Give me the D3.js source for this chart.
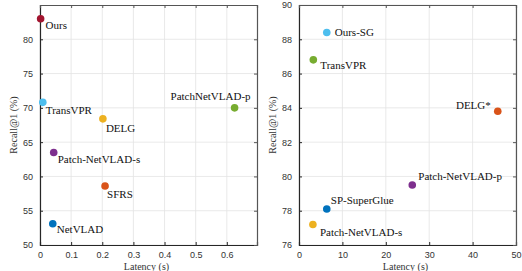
<!DOCTYPE html>
<html>
<head>
<meta charset="utf-8">
<script src="https://cdn.jsdelivr.net/npm/d3@7"></script>
<style>
  body { margin: 0; background: #fff; }
  svg { display: block; }
  .tick text { font-family: "Liberation Sans", Arial, sans-serif; font-size: 9px; fill: #333; }
  .lbl { font-family: "Liberation Serif", "Times New Roman", serif; font-size: 11px; fill: #111; }
  .axlbl { font-family: "Liberation Serif", "Times New Roman", serif; font-size: 10px; fill: #333; }
</style>
</head>
<body>
<svg id="chart" width="522" height="271"></svg>
<script>
// --- left panel data ---
const leftNames   = ["Ours","TransVPR","DELG","Patch-NetVLAD-s","SFRS","NetVLAD","PatchNetVLAD-p"];
const leftLatency = [0.002, 0.009, 0.202, 0.044, 0.209, 0.041, 0.625];
const leftRecall  = [83.0, 70.8, 68.4, 63.5, 58.6, 53.1, 70.0];
const leftColors  = ["#A2142F","#4DBEEE","#EDB120","#7E2F8E","#D95319","#0072BD","#77AC30"];
const leftXTicks  = [0, 0.1, 0.2, 0.3, 0.4, 0.5, 0.6];
const leftYTicks  = [50, 55, 60, 65, 70, 75, 80];

// --- right panel data ---
const rightNames   = ["Ours-SG","TransVPR","DELG*","Patch-NetVLAD-p","SP-SuperGlue","Patch-NetVLAD-s"];
const rightLatency = [6.4, 3.3, 45.8, 26.1, 6.4, 3.2];
const rightRecall  = [88.4, 86.8, 83.8, 79.5, 78.1, 77.2];
const rightColors  = ["#4DBEEE","#77AC30","#D95319","#7E2F8E","#0072BD","#EDB120"];
const rightXTicks  = [0, 10, 20, 30, 40, 50];
const rightYTicks  = [76, 78, 80, 82, 84, 86, 88, 90];

// label offsets [dx, dy, anchor] relative to each marker
const leftLabelPos = [[5,6,"start"],[3,8,"start"],[3,9,"start"],[4,7,"start"],[2,8,"start"],[4,5,"start"],[16,-12,"end"]];
const rightLabelPos = [[8,0,"start"],[7,5,"start"],[-7,-6,"end"],[6,-9,"start"],[4,-9,"start"],[7,8,"start"]];

const svg = d3.select("#chart");

function drawPanel(cfg) {
  const x = d3.scaleLinear().domain(cfg.xDomain).range([cfg.left, cfg.right]);
  const y = d3.scaleLinear().domain(cfg.yDomain).range([cfg.bottom, cfg.top]);
  const g = svg.append("g");

  // grid
  g.append("g").selectAll("line").data(cfg.xTicks).join("line")
    .attr("x1", d => x(d)).attr("x2", d => x(d))
    .attr("y1", cfg.top).attr("y2", cfg.bottom)
    .attr("stroke", "#e3e3e3").attr("stroke-width", 0.8);
  g.append("g").selectAll("line").data(cfg.yTicks).join("line")
    .attr("y1", d => y(d)).attr("y2", d => y(d))
    .attr("x1", cfg.left).attr("x2", cfg.right)
    .attr("stroke", "#e3e3e3").attr("stroke-width", 0.8);

  // axes (ticks pointing inward, box style)
  const bottomAx = g.append("g").attr("transform", `translate(0,${cfg.bottom})`)
    .call(d3.axisBottom(x).tickValues(cfg.xTicks).tickSize(-3).tickPadding(7).tickFormat(cfg.xFormat));
  const leftAx = g.append("g").attr("transform", `translate(${cfg.left},0)`)
    .call(d3.axisLeft(y).tickValues(cfg.yTicks).tickSize(-3).tickPadding(7));
  const topAx = g.append("g").attr("transform", `translate(0,${cfg.top})`)
    .call(d3.axisTop(x).tickValues(cfg.xTicks).tickSize(-3).tickFormat(""));
  const rightAx = g.append("g").attr("transform", `translate(${cfg.right},0)`)
    .call(d3.axisRight(y).tickValues(cfg.yTicks).tickSize(-3).tickFormat(""));
  [bottomAx, leftAx].forEach(a => {
    a.select(".domain").attr("stroke", "#262626").attr("stroke-width", 1.2);
    a.selectAll(".tick line").attr("stroke", "#262626");
  });
  [topAx, rightAx].forEach(a => {
    a.select(".domain").attr("stroke", "#555").attr("stroke-width", 1.2);
    a.selectAll(".tick line").attr("stroke", "#555");
  });

  // points
  g.append("g").selectAll("circle").data(cfg.names).join("circle")
    .attr("cx", (d, i) => x(cfg.latency[i]))
    .attr("cy", (d, i) => y(cfg.recall[i]))
    .attr("r", 3.8)
    .attr("fill", (d, i) => cfg.colors[i]);

  // labels
  g.append("g").selectAll("text").data(cfg.names).join("text")
    .attr("class", "lbl")
    .attr("x", (d, i) => x(cfg.latency[i]) + cfg.labelPos[i][0])
    .attr("y", (d, i) => y(cfg.recall[i]) + cfg.labelPos[i][1])
    .attr("dy", "0.35em")
    .attr("text-anchor", (d, i) => cfg.labelPos[i][2])
    .text(d => d);

  // axis titles
  g.append("text").attr("class", "axlbl")
    .attr("x", (cfg.left + cfg.right) / 2 - 2).attr("y", 269.5)
    .attr("text-anchor", "middle").text("Latency (s)");
  g.append("text").attr("class", "axlbl")
    .attr("transform", `translate(${cfg.left - 23},${(cfg.top + cfg.bottom) / 2}) rotate(-90)`)
    .attr("text-anchor", "middle").text("Recall@1 (%)");
}

drawPanel({
  names: leftNames, latency: leftLatency, recall: leftRecall, colors: leftColors,
  xTicks: leftXTicks, yTicks: leftYTicks, labelPos: leftLabelPos,
  xDomain: [0, 0.697], yDomain: [50, 85],
  left: 40, right: 257, top: 5, bottom: 245,
  xFormat: d => d === 0 ? "0" : d3.format(".1f")(d)
});

drawPanel({
  names: rightNames, latency: rightLatency, recall: rightRecall, colors: rightColors,
  xTicks: rightXTicks, yTicks: rightYTicks, labelPos: rightLabelPos,
  xDomain: [0, 50], yDomain: [76, 90],
  left: 299, right: 516, top: 5, bottom: 245,
  xFormat: d3.format("d")
});
</script>
</body>
</html>
